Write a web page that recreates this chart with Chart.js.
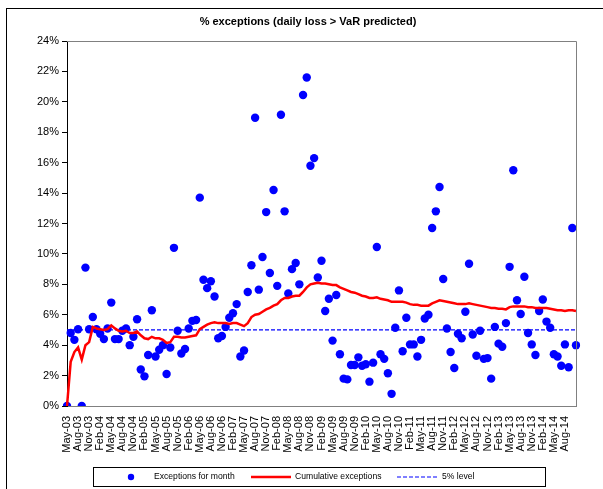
<!DOCTYPE html>
<html>
<head>
<meta charset="utf-8">
<script src="https://cdn.jsdelivr.net/npm/chart.js@4.4.1/dist/chart.umd.min.js"></script>
<style>
  html, body { margin: 0; padding: 0; background: #fff; }
</style>
</head>
<body>
<canvas id="myChart" width="603" height="489"></canvas>
<script>
// months May-03 .. Nov-14
const monthNames = ['Jan', 'Feb', 'Mar', 'Apr', 'May', 'Jun', 'Jul', 'Aug', 'Sep', 'Oct', 'Nov', 'Dec'];
const months = [];
for (let i = 0; i < 139; i++) {
    const m = (4 + i) % 12;
    const y = 3 + Math.floor((4 + i) / 12);
    months.push(monthNames[m] + '-' + (y < 10 ? '0' + y : y));
}
// last labelled month on the axis
const lastLabel = 'Aug-14';

// % exceptions for each month
const monthlyExceptions = [
    0, 4.8, 4.35, 5.05, 0, 9.1, 5.05, 5.85, 5.05, 4.75,
    4.4, 5.1, 6.8, 4.4, 4.4, 4.95, 5.1, 4.0, 4.55, 5.7,
    2.4, 1.95, 3.35, 6.3, 3.25, 3.7, 4.0, 2.1, 3.85, 10.4,
    4.95, 3.45, 3.75, 5.1, 5.6, 5.65, 13.7, 8.3, 7.75, 8.2,
    7.2, 4.45, 4.6, 5.2, 5.8, 6.1, 6.7, 3.25, 3.65, 7.5,
    9.25, 18.95, 7.65, 9.8, 12.75, 8.75, 14.2, 7.9, 19.15, 12.8,
    7.4, 9.0, 9.4, 8.0, 20.45, 21.6, 15.8, 16.3, 8.45, 9.55,
    6.25, 7.05, 4.3, 7.3, 3.4, 1.8, 1.75, 2.7, 2.7, 3.2,
    2.65, 2.75, 1.6, 2.85, 10.45, 3.4, 3.1, 2.15, 0.8, 5.15,
    7.6, 3.6, 5.8, 4.05, 4.05, 3.25, 4.35, 5.75, 6.0, 11.7,
    12.8, 14.4, 8.35, 5.1, 3.55, 2.5, 4.75, 4.45, 6.2, 9.35,
    4.7, 3.3, 4.95, 3.1, 3.15, 1.8, 5.2, 4.1, 3.9, 5.45,
    9.15, 15.5, 6.95, 6.05, 8.5, 4.8, 4.05, 3.35, 6.25, 7.0,
    5.55, 5.15, 3.4, 3.25, 2.65, 4.05, 2.55, 11.7, 4.0
];

// cumulative % exceptions
const cumulativeExceptions = [
    0, 2.9, 3.55, 3.85, 3.05, 4.0, 4.2, 5.2, 5.1, 5.05,
    5.0, 5.05, 5.3, 5.1, 4.95, 4.9, 4.95, 4.8, 4.8, 4.9,
    4.65, 4.45, 4.4, 4.55, 4.45, 4.45, 4.35, 4.15, 4.2, 4.55,
    4.55, 4.5, 4.5, 4.55, 4.6, 4.65, 5.05, 5.2, 5.35, 5.45,
    5.5, 5.45, 5.45, 5.45, 5.4, 5.45, 5.45, 5.35, 5.25, 5.45,
    5.85, 6.0, 6.05, 6.2, 6.35, 6.45, 6.6, 6.7, 6.95, 7.1,
    7.1, 7.2, 7.25, 7.25, 7.5, 7.8, 8.0, 8.05, 8.1, 8.05,
    8.05, 8.0, 7.95, 7.95, 7.8, 7.7, 7.6, 7.5, 7.45, 7.35,
    7.25, 7.2, 7.1, 7.1, 7.15, 7.05, 7.0, 6.95, 6.85, 6.85,
    6.85, 6.85, 6.8, 6.7, 6.65, 6.65, 6.6, 6.6, 6.6, 6.75,
    6.85, 6.95, 6.9, 6.85, 6.8, 6.75, 6.7, 6.7, 6.7, 6.75,
    6.7, 6.65, 6.6, 6.55, 6.5, 6.45, 6.45, 6.4, 6.4, 6.35,
    6.5, 6.55, 6.55, 6.55, 6.55, 6.5, 6.5, 6.45, 6.45, 6.45,
    6.45, 6.4, 6.35, 6.3, 6.3, 6.25, 6.3, 6.3, 6.25
];

const level = 5;
const yTicks = [0, 2, 4, 6, 8, 10, 12, 14, 16, 18, 20, 22, 24];

const FONT = "'Liberation Sans', Arial, sans-serif";

// frame, title, plot border and the boxed legend
const decorations = {
    id: 'decorations',
    afterDraw(chart) {
        const ctx = chart.ctx;
        const a = chart.chartArea;
        ctx.save();
        // outer frame
        ctx.strokeStyle = '#000';
        ctx.lineWidth = 1;
        ctx.strokeRect(6.5, 8.5, 600, 485);
        // plot border (top / right)
        ctx.strokeStyle = '#808080';
        ctx.beginPath();
        ctx.moveTo(a.left, a.top + 0.5);
        ctx.lineTo(a.right + 0.5, a.top + 0.5);
        ctx.lineTo(a.right + 0.5, a.bottom);
        ctx.stroke();
        // title
        ctx.fillStyle = '#000';
        ctx.font = 'bold 11px ' + FONT;
        ctx.textAlign = 'center';
        ctx.textBaseline = 'middle';
        ctx.fillText('% exceptions (daily loss > VaR predicted)', 308, 22);
        // legend
        ctx.strokeStyle = '#000';
        ctx.strokeRect(93.5, 467.5, 452, 19);
        const ly = 477;
        ctx.font = '8.6px ' + FONT;
        ctx.textAlign = 'left';
        const ds = chart.data.datasets;
        ctx.fillStyle = '#0000ff';
        ctx.beginPath();
        ctx.arc(131, ly, 3.2, 0, Math.PI * 2);
        ctx.fill();
        ctx.fillStyle = '#000';
        ctx.fillText(ds[0].label, 154, ly);
        ctx.strokeStyle = '#ff0000';
        ctx.lineWidth = 2.5;
        ctx.beginPath();
        ctx.moveTo(251, ly);
        ctx.lineTo(291, ly);
        ctx.stroke();
        ctx.fillText(ds[1].label, 295, ly);
        ctx.strokeStyle = '#0000ff';
        ctx.lineWidth = 1.2;
        ctx.setLineDash([4, 2]);
        ctx.beginPath();
        ctx.moveTo(397, ly);
        ctx.lineTo(438, ly);
        ctx.stroke();
        ctx.setLineDash([]);
        ctx.fillText(ds[2].label, 442, ly);
        ctx.restore();
    }
};

const ctx = document.getElementById('myChart');
const lastLabelIndex = months.indexOf(lastLabel);

new Chart(ctx, {
    type: 'line',
    data: {
        labels: months,
        datasets: [{
            label: 'Exceptions for month',
            data: monthlyExceptions,
            showLine: false,
            pointRadius: 4.2,
            pointHoverRadius: 4.2,
            pointBackgroundColor: '#0000ff',
            pointBorderWidth: 0,
            borderColor: '#0000ff',
            order: 3
        }, {
            label: 'Cumulative exceptions',
            data: cumulativeExceptions,
            borderColor: '#ff0000',
            borderWidth: 2.5,
            pointRadius: 0,
            tension: 0,
            order: 1
        }, {
            label: '5% level',
            data: [{ x: months[0], y: level }, { x: months[months.length - 1], y: level }],
            borderColor: '#0000ff',
            borderWidth: 1.2,
            borderDash: [4, 2],
            pointRadius: 0,
            order: 2
        }]
    },
    options: {
        responsive: false,
        devicePixelRatio: 1,
        animation: false,
        layout: { padding: { top: 41, right: 27, left: 0, bottom: 0 } },
        plugins: {
            legend: { display: false },
            title: { display: false },
            tooltip: { enabled: false }
        },
        scales: {
            x: {
                type: 'category',
                offset: false,
                grid: { display: false },
                border: { display: true, color: '#808080', width: 1 },
                ticks: {
                    autoSkip: false,
                    maxRotation: 90,
                    minRotation: 90,
                    padding: 2,
                    color: '#000',
                    font: { family: FONT, size: 11 },
                    callback: function (val, index) {
                        return (index % 3 === 0 && index <= lastLabelIndex) ? months[index] : '';
                    }
                },
                afterFit: function (scale) { scale.height = 83; }
            },
            y: {
                min: 0,
                max: 24,
                afterBuildTicks: function (scale) {
                    scale.ticks = yTicks.map(v => ({ value: v }));
                },
                grid: {
                    drawOnChartArea: false,
                    drawTicks: true,
                    tickLength: 5,
                    color: '#000'
                },
                border: { display: true, color: '#000', width: 1 },
                ticks: {
                    padding: 3,
                    color: '#000',
                    font: { family: FONT, size: 11 },
                    callback: function (v) { return v + '%'; }
                },
                afterFit: function (scale) { scale.width = 67; }
            }
        }
    },
    plugins: [decorations]
});
</script>
</body>
</html>
